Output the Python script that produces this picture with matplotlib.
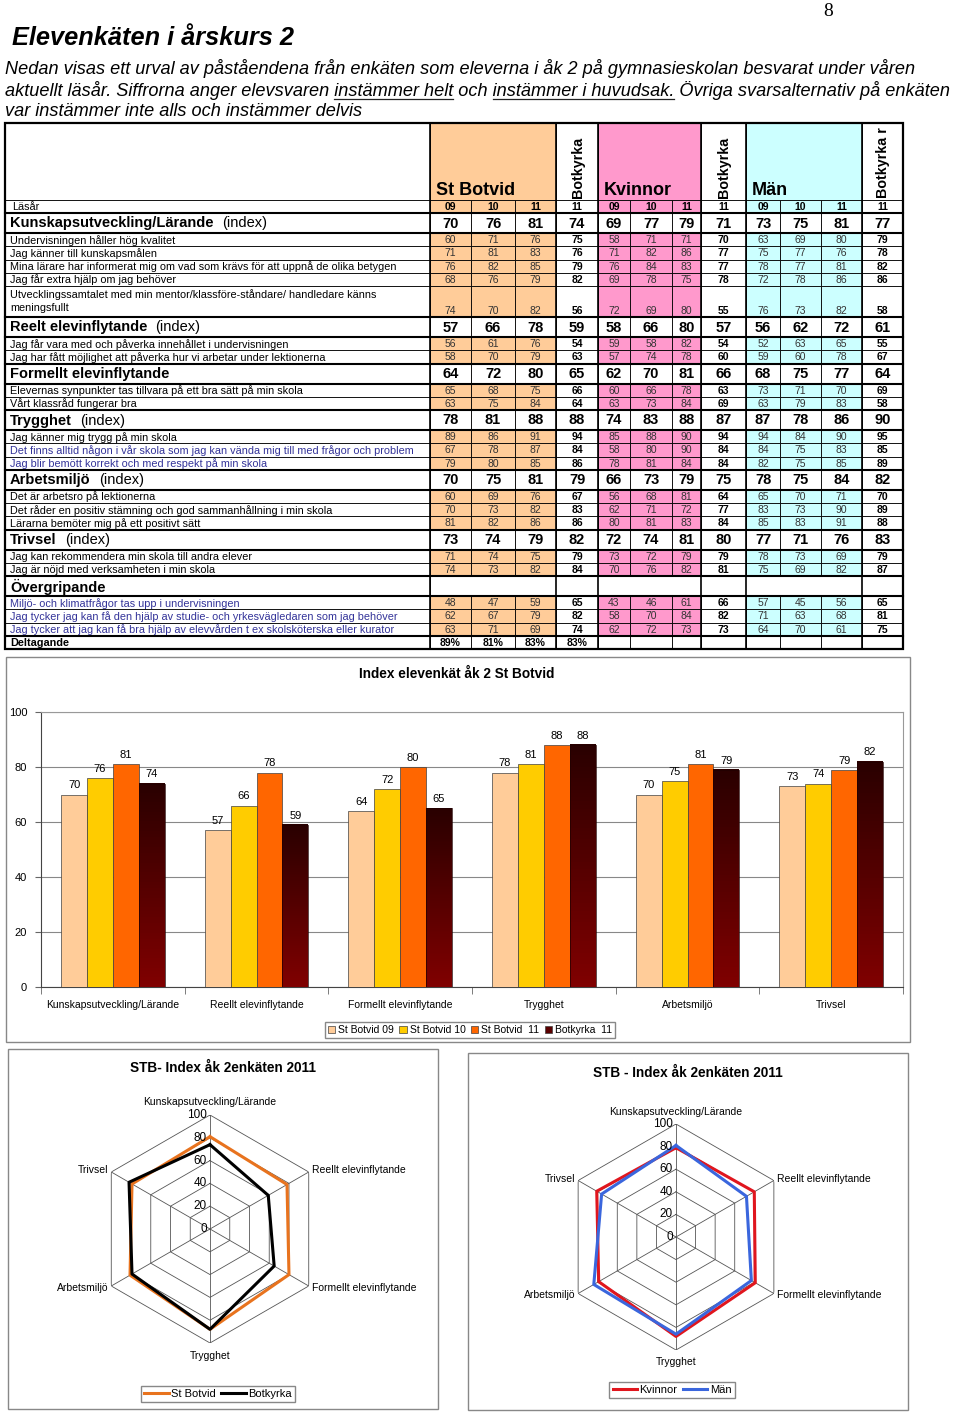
import matplotlib
matplotlib.use('Agg')
import numpy as np
import matplotlib.pyplot as plt
from matplotlib.patches import Rectangle
from matplotlib.lines import Line2D
from matplotlib.colors import LinearSegmentedColormap
from matplotlib.transforms import offset_copy

plt.rcParams['font.family'] = ['Liberation Sans', 'DejaVu Sans']

# ---------------- data ----------------
years = ['09', '10', '11', '11', '09', '10', '11', '11', '09', '10', '11', '11']
group_heads = ['St Botvid', 'Botkyrka', 'Kvinnor', 'Botkyrka', 'Män', 'Botkyrka r']

row_labels = [
    'Kunskapsutveckling/Lärande',
    'Undervisningen håller hög kvalitet',
    'Jag känner till kunskapsmålen',
    'Mina lärare har informerat mig om vad som krävs för att uppnå de olika betygen',
    'Jag får extra hjälp om jag behöver',
    'Utvecklingssamtalet med min mentor/klassföre-ståndare/ handledare känns\nmeningsfullt',
    'Reelt elevinflytande',
    'Jag får vara med och påverka innehållet i undervisningen',
    'Jag har fått möjlighet att påverka hur vi arbetar under lektionerna',
    'Formellt elevinflytande',
    'Elevernas synpunkter tas tillvara på ett bra sätt på min skola',
    'Vårt klassråd fungerar bra',
    'Trygghet',
    'Jag känner mig trygg på min skola',
    'Det finns alltid någon i vår skola som jag kan vända mig till med frågor och problem',
    'Jag blir bemött korrekt och med respekt på min skola',
    'Arbetsmiljö',
    'Det är arbetsro på lektionerna',
    'Det råder en positiv stämning och god sammanhållning i min skola',
    'Lärarna bemöter mig på ett positivt sätt',
    'Trivsel',
    'Jag kan rekommendera min skola till andra elever',
    'Jag är nöjd med verksamheten i min skola',
    'Övergripande',
    'Miljö- och klimatfrågor tas upp i undervisningen',
    'Jag tycker jag kan få den hjälp av studie- och yrkesvägledaren som jag behöver',
    'Jag tycker att jag kan få bra hjälp av elevvården t ex skolsköterska eller kurator',
]
row_kinds = ['index', 'item', 'item', 'item', 'item', 'item2',
             'index', 'item', 'item',
             'index', 'item', 'item',
             'index', 'item', 'blue', 'blue',
             'index', 'item', 'item', 'item',
             'index', 'item', 'item',
             'head', 'blue', 'blue', 'blue']
with_index = ['Kunskapsutveckling/Lärande', 'Reelt elevinflytande', 'Trygghet', 'Arbetsmiljö', 'Trivsel']
row_values = [
    [70, 76, 81, 74, 69, 77, 79, 71, 73, 75, 81, 77],
    [60, 71, 76, 75, 58, 71, 71, 70, 63, 69, 80, 79],
    [71, 81, 83, 76, 71, 82, 86, 77, 75, 77, 76, 78],
    [76, 82, 85, 79, 76, 84, 83, 77, 78, 77, 81, 82],
    [68, 76, 79, 82, 69, 78, 75, 78, 72, 78, 86, 86],
    [74, 70, 82, 56, 72, 69, 80, 55, 76, 73, 82, 58],
    [57, 66, 78, 59, 58, 66, 80, 57, 56, 62, 72, 61],
    [56, 61, 76, 54, 59, 58, 82, 54, 52, 63, 65, 55],
    [58, 70, 79, 63, 57, 74, 78, 60, 59, 60, 78, 67],
    [64, 72, 80, 65, 62, 70, 81, 66, 68, 75, 77, 64],
    [65, 68, 75, 66, 60, 66, 78, 63, 73, 71, 70, 69],
    [63, 75, 84, 64, 63, 73, 84, 69, 63, 79, 83, 58],
    [78, 81, 88, 88, 74, 83, 88, 87, 87, 78, 86, 90],
    [89, 86, 91, 94, 85, 88, 90, 94, 94, 84, 90, 95],
    [67, 78, 87, 84, 58, 80, 90, 84, 84, 75, 83, 85],
    [79, 80, 85, 86, 78, 81, 84, 84, 82, 75, 85, 89],
    [70, 75, 81, 79, 66, 73, 79, 75, 78, 75, 84, 82],
    [60, 69, 76, 67, 56, 68, 81, 64, 65, 70, 71, 70],
    [70, 73, 82, 83, 62, 71, 72, 77, 83, 73, 90, 89],
    [81, 82, 86, 86, 80, 81, 83, 84, 85, 83, 91, 88],
    [73, 74, 79, 82, 72, 74, 81, 80, 77, 71, 76, 83],
    [71, 74, 75, 79, 73, 72, 79, 79, 78, 73, 69, 79],
    [74, 73, 82, 84, 70, 76, 82, 81, 75, 69, 82, 87],
    None,
    [48, 47, 59, 65, 43, 46, 61, 66, 57, 45, 56, 65],
    [62, 67, 79, 82, 58, 70, 84, 82, 71, 63, 68, 81],
    [63, 71, 69, 74, 62, 72, 73, 73, 64, 70, 61, 75],
]
deltagande = [89, 81, 83, 83]

bar_cats = ['Kunskapsutveckling/Lärande', 'Reellt elevinflytande', 'Formellt elevinflytande',
            'Trygghet', 'Arbetsmiljö', 'Trivsel']
stb09 = [70, 57, 64, 78, 70, 73]
stb10 = [76, 66, 72, 81, 75, 74]
stb11 = [81, 78, 80, 88, 81, 79]
botk11 = [74, 59, 65, 88, 79, 82]
kvinnor11 = [79, 80, 81, 88, 79, 81]
man11 = [81, 72, 77, 86, 84, 76]
radar_ticks = [0, 20, 40, 60, 80, 100]

# ---------------- page ----------------
W, H = 960, 1414
fig = plt.figure(figsize=(W / 100, H / 100), dpi=100)
page = fig.add_axes([0, 0, 1, 1])
page.set_xlim(0, W)
page.set_ylim(H, 0)
page.axis('off')
rend = fig.canvas.get_renderer()


def text_width(s, **kw):
    t = page.text(0, 0, '|' + s + '|', **kw)
    w = t.get_window_extent(rend).width
    t.set_text('||')
    w -= t.get_window_extent(rend).width
    t.remove()
    return w


page.text(828, 12, '8', family='Liberation Serif', fontsize=14, ha='center', va='center')
page.text(12, 38, 'Elevenkäten i årskurs 2', fontsize=18.3, weight='bold', style='italic', va='center')

intro = ['Nedan visas ett urval av påståendena från enkäten som eleverna i åk 2 på gymnasieskolan besvarat under våren',
         'aktuellt läsår. Siffrorna anger elevsvaren instämmer helt och instämmer i huvudsak. Övriga svarsalternativ på enkäten',
         'var instämmer inte alls och instämmer delvis']
intro_kw = dict(fontsize=13.1, style='italic')
for i, line in enumerate(intro):
    page.text(5, 69 + 21 * i, line, va='center', **intro_kw)
for part in ['instämmer helt', 'instämmer i huvudsak.']:
    pre = intro[1][:intro[1].index(part)]
    x0 = 5 + text_width(pre, **intro_kw)
    page.plot([x0, x0 + text_width(part, **intro_kw)], [98.5, 98.5], color='#222', lw=0.9)

# ---------------- table ----------------
col_x = [430, 471, 515, 556, 598, 630, 672, 701, 746, 780, 821, 862, 903]
group_fill = ['#FFCC99'] * 3 + ['white'] + ['#FF99CC'] * 3 + ['white'] + ['#CCFFFF'] * 3 + ['white']
LEFT, TOP = 5, 123
heights = {'index': 20, 'head': 20, 'item': 13.25, 'blue': 13.25, 'item2': 31}
thin = 0.6
small = 7.8
small_num = 7.5


def cell(x0, x1, y0, y1, fc='white', lw=thin):
    page.add_patch(Rectangle((x0, y0), x1 - x0, y1 - y0, facecolor=fc, edgecolor='black', lw=lw))


# header
cell(LEFT, col_x[0], TOP, 200)
head_spans = [(0, 3), (3, 4), (4, 7), (7, 8), (8, 11), (11, 12)]
for (a, b), name in zip(head_spans, group_heads):
    cell(col_x[a], col_x[b], TOP, 200, group_fill[a])
    if b - a == 3:
        page.text(col_x[a] + 6, 195, name, fontsize=13, weight='bold', va='baseline')
    else:
        page.text((col_x[a] + col_x[b]) / 2 + 1, 197.5, name, fontsize=10.3, weight='bold',
                  rotation=90, ha='center', va='bottom')

# Läsår row
y = 200
cell(LEFT, col_x[0], y, y + 13)
page.text(12, y + 6.8, 'Läsår', fontsize=small, va='center')
for j, yr in enumerate(years):
    cell(col_x[j], col_x[j + 1], y, y + 13, group_fill[j])
    page.text((col_x[j] + col_x[j + 1]) / 2, y + 6.8, yr, fontsize=small_num, weight='bold',
              ha='center', va='center')
y += 13

thick_y = []
for label, kind, vals in zip(row_labels, row_kinds, row_values):
    h = heights[kind]
    y0, y1 = y, y + h
    ym = (y0 + y1) / 2 + 0.5
    cell(LEFT, col_x[0], y0, y1)
    if kind in ('index', 'head'):
        thick_y += [y0, y1]
        page.text(10, ym, label, fontsize=10.5, weight='bold', va='center')
        if label in with_index:
            x_suf = 10 + text_width(label, fontsize=10.5, weight='bold') + text_width('  ', fontsize=10.5)
            page.text(x_suf, ym, '(index)', fontsize=10.5, va='center')
        if kind == 'head':
            cell(col_x[0], col_x[-1], y0, y1)
        else:
            for j, v in enumerate(vals):
                cell(col_x[j], col_x[j + 1], y0, y1)
                page.text((col_x[j] + col_x[j + 1]) / 2, ym, str(v), fontsize=10.5, weight='bold',
                          ha='center', va='center')
    else:
        txt_col = '#333399' if kind == 'blue' else 'black'
        if kind == 'item2':
            page.text(10, y0 + 3, label, fontsize=small, color=txt_col, va='top', linespacing=1.4)
            vy = y1 - 6.5
        else:
            page.text(10, ym, label, fontsize=small, color=txt_col, va='center')
            vy = ym
        for j, v in enumerate(vals):
            cell(col_x[j], col_x[j + 1], y0, y1, group_fill[j])
            bold = group_fill[j] == 'white'
            page.text((col_x[j] + col_x[j + 1]) / 2, vy, str(v), fontsize=small_num,
                      weight='bold' if bold else 'normal', color='black' if bold else '#333',
                      ha='center', va='center')
    y = y1

# Deltagande row
h = heights['item']
cell(LEFT, col_x[0], y, y + h)
page.text(10, y + h / 2 + 0.5, 'Deltagande', fontsize=small, weight='bold', va='center')
for j in range(12):
    cell(col_x[j], col_x[j + 1], y, y + h)
    if j < len(deltagande):
        page.text((col_x[j] + col_x[j + 1]) / 2, y + h / 2 + 0.5, f'{deltagande[j]}%', fontsize=small_num,
                  weight='bold', ha='center', va='center')
thick_y.append(y)
y_bottom = y + h

for ty in thick_y:
    page.plot([LEFT, col_x[-1]], [ty, ty], color='black', lw=1.5)
for xv in [col_x[0], col_x[3], col_x[4], col_x[7], col_x[8], col_x[11]]:
    page.plot([xv, xv], [TOP, y_bottom], color='black', lw=1.2)
page.add_patch(Rectangle((LEFT, TOP), col_x[-1] - LEFT, y_bottom - TOP, fill=False, edgecolor='black', lw=1.6))

# ---------------- bar chart ----------------
page.add_patch(Rectangle((6, 657), 904, 385, fill=False, edgecolor='#888', lw=1))
page.text(457, 674, 'Index elevenkät åk 2 St Botvid', fontsize=9.8, weight='bold', ha='center', va='center')

bx = fig.add_axes([41 / W, 1 - 987 / H, (903 - 41) / W, (987 - 712) / H])
xs = np.arange(len(bar_cats))
bw = 0.18
bar_series = [stb09, stb10, stb11, botk11]
bar_names = ['St Botvid 09', 'St Botvid 10', 'St Botvid  11', 'Botkyrka  11']
bar_colors = ['#FFCC99', '#FFCC00', '#FF6600', '#5A0000']
dark = LinearSegmentedColormap.from_list('dark', ['#800000', '#2A0000'])
grad = np.linspace(0, 1, 64).reshape(-1, 1)
for i, vals in enumerate(bar_series):
    pos = xs + (i - 1.5) * bw
    if i < 3:
        bx.bar(pos, vals, bw, color=bar_colors[i], edgecolor='#404040', linewidth=0.5, zorder=3)
    else:
        for p, v in zip(pos, vals):
            bx.imshow(grad, extent=(p - bw / 2, p + bw / 2, 0, v), cmap=dark, aspect='auto',
                      origin='lower', zorder=3)
        bx.bar(pos, vals, bw, fill=False, edgecolor='#200000', linewidth=0.5, zorder=4)
    for p, v in zip(pos, vals):
        bx.text(p, v + 1.5, str(v), ha='center', va='bottom', fontsize=8)
bx.set_xlim(-0.5, len(bar_cats) - 0.5)
bx.set_ylim(0, 100)
bx.set_yticks(range(0, 101, 20))
bx.yaxis.grid(True, color='#888', lw=0.8)
bx.set_axisbelow(True)
bx.set_xticks(xs)
bx.set_xticklabels(bar_cats, fontsize=7.5)
bx.set_xticks(np.arange(-0.5, len(bar_cats)), minor=True)
bx.tick_params(axis='x', which='major', length=0, pad=9)
bx.tick_params(axis='x', which='minor', length=5, color='#666', direction='out')
bx.tick_params(axis='y', labelsize=8, length=4, color='#666', pad=6)
for side in ['top', 'right']:
    bx.spines[side].set_color('#999')
bx.spines['left'].set_color('#444')
bx.spines['bottom'].set_color('#444')

bar_handles = [Rectangle((0, 0), 1, 1, facecolor=c, edgecolor='#404040', lw=0.5) for c in bar_colors]
fig.legend(bar_handles, bar_names, loc='center', bbox_to_anchor=(470 / W, 1 - 1030 / H), ncol=4,
           fancybox=False, edgecolor='#888', fontsize=7.5, handlelength=0.7, handleheight=0.7,
           handletextpad=0.3, columnspacing=0.5, borderpad=0.3, framealpha=1)


# ---------------- radar charts ----------------
def radar(cx, cy, R, sa, sb, ca, cb, na, nb, title, ty, ly, box):
    page.add_patch(Rectangle((box[0], box[1]), box[2] - box[0], box[3] - box[1],
                             fill=False, edgecolor='#888', lw=1))
    page.text((box[0] + box[2]) / 2, ty, title, fontsize=9.8, weight='bold', ha='center', va='center')
    ax = fig.add_axes([(cx - R) / W, 1 - (cy + R) / H, 2 * R / W, 2 * R / H], projection='polar')
    ax.set_theta_zero_location('N')
    ax.set_theta_direction(-1)
    ax.set_ylim(0, 100)
    ax.grid(False)
    ax.set_xticks([])
    ax.set_yticks([])
    ax.spines['polar'].set_visible(False)
    ax.patch.set_visible(False)
    n = len(bar_cats)
    th = np.linspace(0, 2 * np.pi, n + 1)
    for lev in radar_ticks[1:]:
        ax.plot(th, [lev] * (n + 1), color='#555', lw=0.6)
    for t in th[:-1]:
        ax.plot([t, t], [0, 100], color='#555', lw=0.6)
    ax.plot(th, sa + sa[:1], color=ca, lw=2.2)
    ax.plot(th, sb + sb[:1], color=cb, lw=2.2)
    shift = offset_copy(ax.transData, fig=fig, x=-3, y=0, units='dots')
    for lev in radar_ticks:
        ax.text(0, lev, str(lev), transform=shift, ha='right', va='center', fontsize=8.5)
    for i, name in enumerate(bar_cats):
        if i in (0, 3):
            ax.text(th[i], 111, name, ha='center', va='center', fontsize=7.5)
        elif i in (1, 2):
            ax.text(th[i], 103, name, ha='left', va='center', fontsize=7.5)
        else:
            ax.text(th[i], 103, name, ha='right', va='center', fontsize=7.5)
    handles = [Line2D([0], [0], color=ca, lw=2.2), Line2D([0], [0], color=cb, lw=2.2)]
    fig.legend(handles, [na, nb], loc='center', bbox_to_anchor=(ly[0] / W, 1 - ly[1] / H), ncol=2,
               fancybox=False, edgecolor='#888', fontsize=8, handlelength=2.2, handletextpad=0.2,
               columnspacing=0.5, borderpad=0.3, framealpha=1)


radar(210, 1229, 114, stb11, botk11, '#E8731E', 'black', 'St Botvid', 'Botkyrka',
      'STB- Index åk 2enkäten 2011', 1068, (218, 1394), (8, 1049, 438, 1409))
radar(676, 1237, 113, kvinnor11, man11, '#E0161E', '#3A66DD', 'Kvinnor', 'Män',
      'STB - Index åk 2enkäten 2011', 1073, (672, 1390), (468, 1053, 908, 1410))

fig.savefig('out.png', dpi=100)
